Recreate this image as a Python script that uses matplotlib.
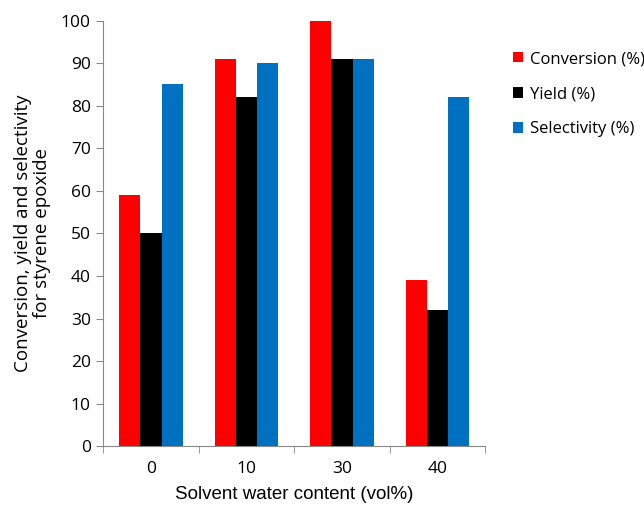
import numpy as np
import matplotlib.pyplot as plt

# values
water = ["0", "10", "30", "40"]
conversion = [59, 91, 100, 39]
yield_ = [50, 82, 91, 32]
selectivity = [85, 90, 91, 82]

plt.rcParams['font.family'] = ['Open Sans', 'DejaVu Sans']

fig = plt.figure(figsize=(6.44, 5.05), dpi=100)
ax = fig.add_axes([0.1604, 0.1164, 0.593, 0.843])

x = np.arange(len(water))
w = 0.223
ax.bar(x - w, conversion, w, color="#ff0000", label="Conversion (%)")
ax.bar(x, yield_, w, color="#000000", label="Yield (%)")
ax.bar(x + w, selectivity, w, color="#0070c0", label="Selectivity (%)")

ax.set_xlim(-0.5, len(water) - 0.5)
ax.set_ylim(0, 100)
ax.set_yticks(range(0, 101, 10))
ax.set_xticks(x)
ax.set_xticklabels(water)
ax.tick_params(axis='x', which='major', length=0, pad=11, labelsize=12.5)
ax.set_xticks(np.arange(-0.5, len(water)), minor=True)
ax.tick_params(axis='x', which='minor', length=5, color='#888888')
ax.tick_params(axis='y', length=5, color='#888888', labelsize=12.5, pad=4)

for s in ['top', 'right']:
    ax.spines[s].set_visible(False)
for s in ['left', 'bottom']:
    ax.spines[s].set_color('#888888')

ax.set_xlabel("Solvent water content (vol%)", fontsize=13.5, labelpad=6,
              family=['Liberation Sans', 'DejaVu Sans'])
ax.set_ylabel("Conversion, yield and selectivity\nfor styrene epoxide", fontsize=13.5,
              labelpad=7, linespacing=1.1)

ax.legend(loc='upper left', bbox_to_anchor=(513 / 644, 1 - 51 / 505),
          bbox_transform=fig.transFigure, frameon=False, fontsize=12,
          borderpad=0, borderaxespad=0,
          handlelength=0.6, handleheight=0.6, handletextpad=0.4, labelspacing=1.15)

fig.savefig("out.png")
plt.close()
